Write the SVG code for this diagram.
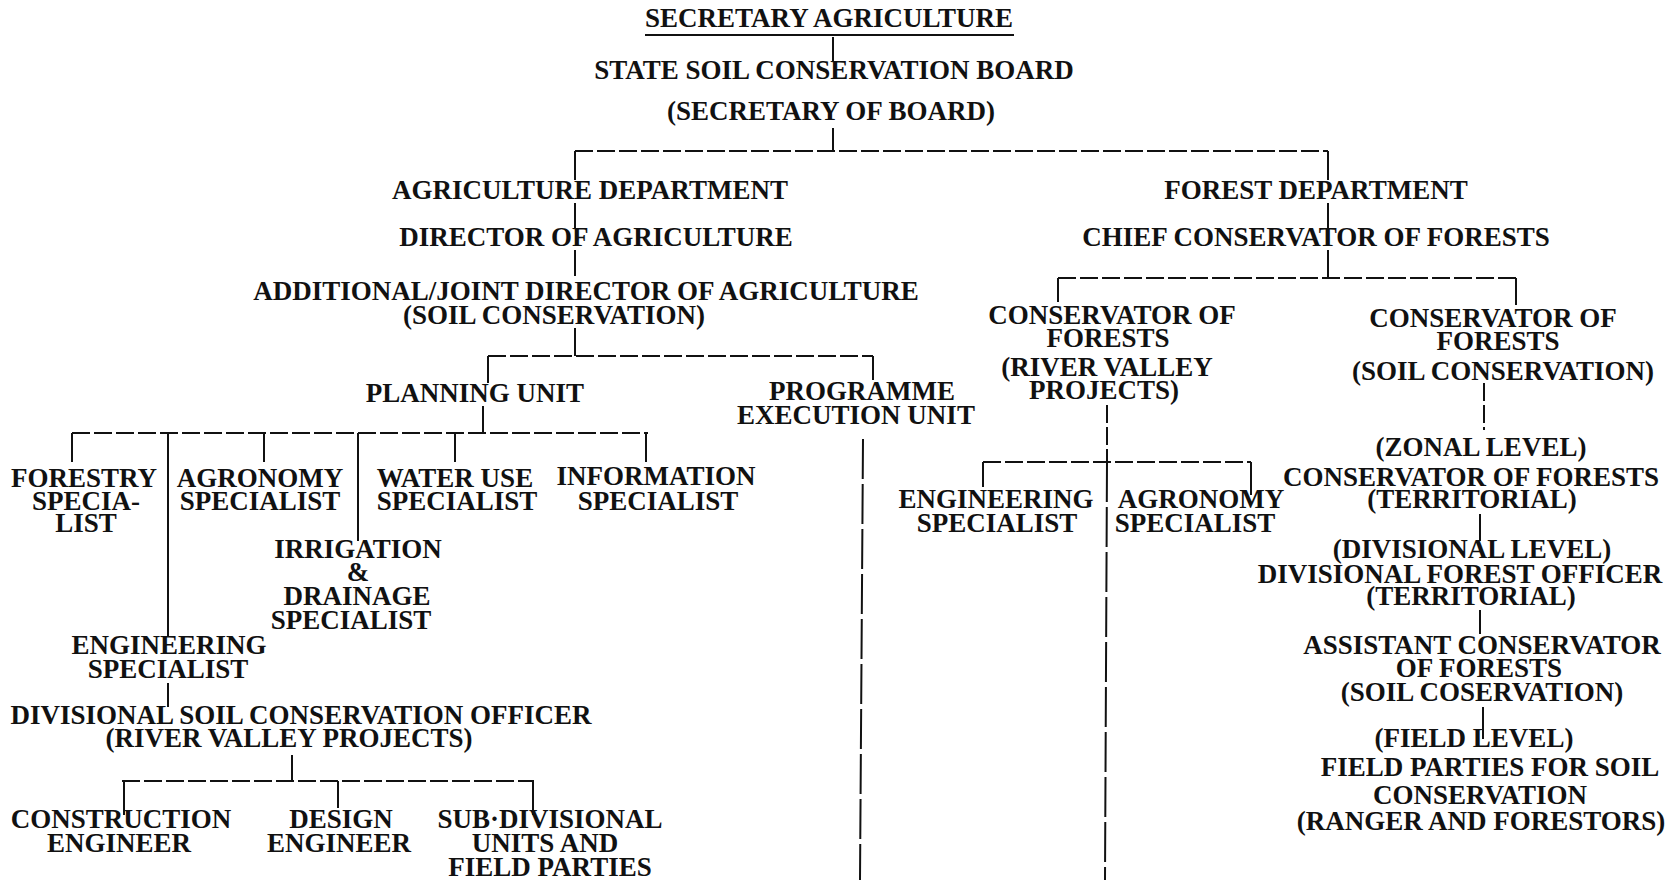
<svg xmlns="http://www.w3.org/2000/svg" width="1679" height="880" viewBox="0 0 1679 880">
<style>
.t{font-family:"Liberation Serif","Times New Roman",serif;font-weight:bold;font-size:27px;text-anchor:middle;fill:#111}
.ln{stroke:#111;stroke-width:2;fill:none}
.d{stroke-dasharray:18 4}
.dl{stroke-dasharray:40 5}
</style>
<rect width="1679" height="880" fill="#fff"/>
<g id="connectors">
  <line class="ln" x1="645" y1="35" x2="1014" y2="35"/>
  <line class="ln" x1="833" y1="37" x2="833" y2="62"/>
  <line class="ln" x1="833" y1="128" x2="833" y2="151"/>
  <line class="ln d" x1="575" y1="151" x2="1328" y2="151"/>
  <line class="ln" x1="575" y1="151" x2="575" y2="180"/>
  <line class="ln" x1="1328" y1="151" x2="1328" y2="180"/>
  <line class="ln" x1="575" y1="203" x2="575" y2="228"/>
  <line class="ln" x1="1328" y1="203" x2="1328" y2="228"/>
  <line class="ln" x1="575" y1="250" x2="575" y2="276"/>
  <line class="ln" x1="575" y1="328" x2="575" y2="356"/>
  <line class="ln d" x1="488" y1="356" x2="873" y2="356"/>
  <line class="ln" x1="488" y1="356" x2="488" y2="383"/>
  <line class="ln" x1="873" y1="356" x2="873" y2="380"/>
  <line class="ln" x1="483" y1="406" x2="483" y2="433"/>
  <line class="ln d" x1="72" y1="433" x2="648" y2="433"/>
  <line class="ln" x1="72" y1="433" x2="72" y2="462"/>
  <line class="ln" x1="168" y1="433" x2="168" y2="636"/>
  <line class="ln" x1="264" y1="433" x2="264" y2="462"/>
  <line class="ln" x1="358" y1="433" x2="358" y2="541"/>
  <line class="ln" x1="455" y1="433" x2="455" y2="462"/>
  <line class="ln" x1="646" y1="433" x2="646" y2="462"/>
  <line class="ln" x1="168" y1="683" x2="168" y2="707"/>
  <line class="ln" x1="292" y1="755" x2="292" y2="781"/>
  <line class="ln d" x1="122" y1="781" x2="534" y2="781"/>
  <line class="ln" x1="124" y1="781" x2="124" y2="815"/>
  <line class="ln" x1="338" y1="781" x2="338" y2="808"/>
  <line class="ln" x1="533" y1="781" x2="533" y2="815"/>
  <line class="ln dl" x1="863" y1="439" x2="860" y2="880"/>
  <line class="ln" x1="1328" y1="250" x2="1328" y2="278"/>
  <line class="ln d" x1="1058" y1="278" x2="1516" y2="278"/>
  <line class="ln" x1="1058" y1="278" x2="1058" y2="302"/>
  <line class="ln" x1="1516" y1="278" x2="1516" y2="305"/>
  <line class="ln d" x1="1107" y1="405" x2="1107" y2="462"/>
  <line class="ln d" x1="983" y1="462" x2="1251" y2="462"/>
  <line class="ln" x1="983" y1="462" x2="983" y2="487"/>
  <line class="ln" x1="1251" y1="462" x2="1251" y2="495"/>
  <line class="ln dl" x1="1107" y1="462" x2="1105" y2="880"/>
  <line class="ln d" x1="1484" y1="383" x2="1484" y2="430"/>
  <line class="ln" x1="1480" y1="514" x2="1480" y2="541"/>
  <line class="ln" x1="1480" y1="610" x2="1480" y2="634"/>
  <line class="ln" x1="1483" y1="707" x2="1483" y2="739"/>
</g>
<g id="secretary"><text class="t" x="829" y="27">SECRETARY AGRICULTURE</text></g>
<g id="board">
  <text class="t" x="834" y="79">STATE SOIL CONSERVATION BOARD</text>
  <text class="t" x="831" y="120">(SECRETARY OF BOARD)</text>
</g>
<g id="agri-dept"><text class="t" x="590" y="199">AGRICULTURE DEPARTMENT</text></g>
<g id="forest-dept"><text class="t" x="1316" y="199">FOREST DEPARTMENT</text></g>
<g id="director"><text class="t" x="596" y="246">DIRECTOR OF AGRICULTURE</text></g>
<g id="chief"><text class="t" x="1316" y="246">CHIEF CONSERVATOR OF FORESTS</text></g>
<g id="addl">
  <text class="t" x="586" y="300">ADDITIONAL/JOINT DIRECTOR OF AGRICULTURE</text>
  <text class="t" x="554" y="324">(SOIL CONSERVATION)</text>
</g>
<g id="planning"><text class="t" x="475" y="402">PLANNING UNIT</text></g>
<g id="peu">
  <text class="t" x="862" y="400">PROGRAMME</text>
  <text class="t" x="856" y="424">EXECUTION UNIT</text>
</g>
<g id="forestry">
  <text class="t" x="84" y="487">FORESTRY</text>
  <text class="t" x="86" y="510">SPECIA-</text>
  <text class="t" x="86" y="532">LIST</text>
</g>
<g id="agronomy">
  <text class="t" x="260" y="487">AGRONOMY</text>
  <text class="t" x="260" y="510">SPECIALIST</text>
</g>
<g id="wateruse">
  <text class="t" x="455" y="487">WATER USE</text>
  <text class="t" x="457" y="510">SPECIALIST</text>
</g>
<g id="information">
  <text class="t" x="656" y="485">INFORMATION</text>
  <text class="t" x="658" y="510">SPECIALIST</text>
</g>
<g id="irrigation">
  <text class="t" x="358" y="558">IRRIGATION</text>
  <text class="t" x="358" y="581">&amp;</text>
  <text class="t" x="357" y="605">DRAINAGE</text>
  <text class="t" x="351" y="629">SPECIALIST</text>
</g>
<g id="engineering">
  <text class="t" x="169" y="654">ENGINEERING</text>
  <text class="t" x="168" y="678">SPECIALIST</text>
</g>
<g id="dsco">
  <text class="t" x="301" y="724">DIVISIONAL SOIL CONSERVATION OFFICER</text>
  <text class="t" x="289" y="747">(RIVER VALLEY PROJECTS)</text>
</g>
<g id="construction">
  <text class="t" x="121" y="828">CONSTRUCTION</text>
  <text class="t" x="119" y="852">ENGINEER</text>
</g>
<g id="design">
  <text class="t" x="341" y="828">DESIGN</text>
  <text class="t" x="339" y="852">ENGINEER</text>
</g>
<g id="subdiv">
  <text class="t" x="550" y="828">SUB·DIVISIONAL</text>
  <text class="t" x="545" y="852">UNITS AND</text>
  <text class="t" x="550" y="876">FIELD PARTIES</text>
</g>
<g id="cf-rvp">
  <text class="t" x="1112" y="324">CONSERVATOR OF</text>
  <text class="t" x="1108" y="347">FORESTS</text>
  <text class="t" x="1107" y="376">(RIVER VALLEY</text>
  <text class="t" x="1104" y="399">PROJECTS)</text>
</g>
<g id="cf-sc">
  <text class="t" x="1493" y="327">CONSERVATOR OF</text>
  <text class="t" x="1498" y="350">FORESTS</text>
  <text class="t" x="1503" y="380">(SOIL CONSERVATION)</text>
</g>
<g id="rvp-eng">
  <text class="t" x="996" y="508">ENGINEERING</text>
  <text class="t" x="997" y="532">SPECIALIST</text>
</g>
<g id="rvp-agr">
  <text class="t" x="1201" y="508">AGRONOMY</text>
  <text class="t" x="1195" y="532">SPECIALIST</text>
</g>
<g id="zonal">
  <text class="t" x="1481" y="456">(ZONAL LEVEL)</text>
  <text class="t" x="1471" y="486">CONSERVATOR OF FORESTS</text>
  <text class="t" x="1472" y="508">(TERRITORIAL)</text>
</g>
<g id="divisional">
  <text class="t" x="1472" y="558">(DIVISIONAL LEVEL)</text>
  <text class="t" x="1460" y="583">DIVISIONAL FOREST OFFICER</text>
  <text class="t" x="1471" y="605">(TERRITORIAL)</text>
</g>
<g id="acf">
  <text class="t" x="1482" y="654">ASSISTANT CONSERVATOR</text>
  <text class="t" x="1479" y="677">OF FORESTS</text>
  <text class="t" x="1482" y="701">(SOIL COSERVATION)</text>
</g>
<g id="field">
  <text class="t" x="1474" y="747">(FIELD LEVEL)</text>
  <text class="t" x="1490" y="776">FIELD PARTIES FOR SOIL</text>
  <text class="t" x="1480" y="804">CONSERVATION</text>
  <text class="t" x="1481" y="830">(RANGER AND FORESTORS)</text>
</g>
</svg>
